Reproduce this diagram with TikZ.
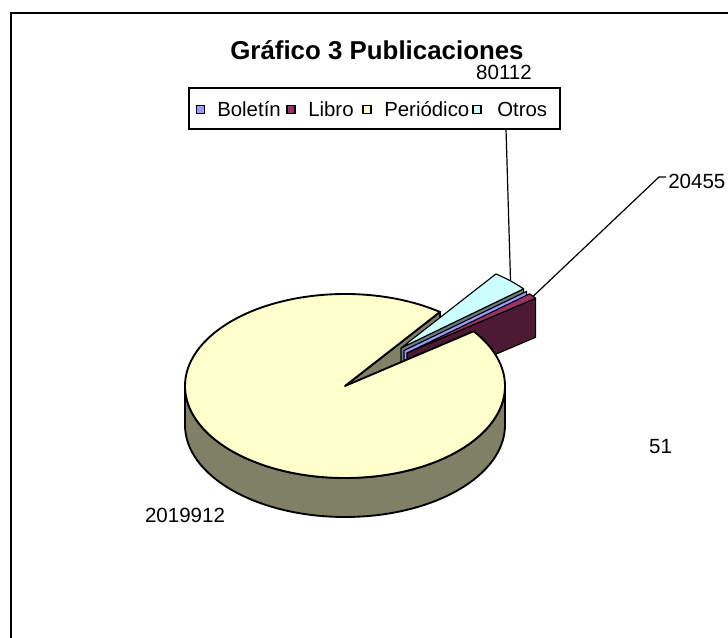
\documentclass[tikz,border=0pt]{standalone}
\usepackage{fontspec}
\setmainfont{Liberation Sans}
\usetikzlibrary{calc}
\definecolor{perTop}{HTML}{FFFFCC}
\definecolor{perSide}{HTML}{808066}
\definecolor{libTop}{HTML}{993366}
\definecolor{libSide}{HTML}{4D1A33}
\definecolor{otrTop}{HTML}{CCFFFF}
\definecolor{otrSide}{HTML}{668080}
\definecolor{bolTop}{HTML}{9999FF}
\begin{document}
\begin{tikzpicture}[x=0.75pt,y=0.75pt,
  pie/.style={draw=black,line width=1.4pt,line join=round},
  thinpie/.style={draw=black,line width=0.85pt,line join=round},
  lbl/.style={font=\fontsize{15.4}{18}\selectfont,inner sep=0pt},
  legtxt/.style={font=\fontsize{15.3}{18}\selectfont,inner sep=0pt,anchor=base west},
  leader/.style={draw=black,line width=0.9pt},
  sq/.style={draw=black,line width=0.8pt,minimum size=6pt,inner sep=0pt}]
\useasboundingbox (0,0) rectangle (728,638);
\fill[white] (0,0) rectangle (728,638);
% outer frame
\draw[line width=1.5pt] (11.2,0) -- (11.2,625.3) -- (728,625.3);

% main slice geometry
\coordinate (C) at (345,252);
\coordinate (Cb) at (345,213);
% Periodico outer wall
\path[pie,fill=perSide] ($(C)+(180:160 and 92)$) arc[start angle=180,end angle=360,x radius=160,y radius=92] -- ++(0,-39) arc[start angle=360,end angle=180,x radius=160,y radius=92] -- cycle;
% Periodico cut face
\path[pie,fill=perSide] (C) -- ($(C)+(53.6:160 and 92)$) -- ++(0,-39) -- (Cb) -- cycle;

% Otros (exploded)
\coordinate (AO) at (401,290);
\path[thinpie,fill=otrSide] (AO) -- ($(AO)+(40:160 and 92)$) -- ++(0,-39) -- ($(AO)+(0,-39)$) -- cycle;
\path[thinpie,fill=otrTop] (AO) -- ($(AO)+(40:160 and 92)$) arc[start angle=40,end angle=53.6,x radius=160,y radius=92] -- cycle;
% Boletin (exploded)
\coordinate (AB) at (404,287.5);
\path[thinpie,fill=bolTop] (AB) -- ($(AB)+(40:160 and 92)$) -- ++(0,-39) -- ($(AB)+(0,-39)$) -- cycle;
% Libro (exploded)
\coordinate (AL) at (407,285);
\path[thinpie,fill=libSide] (AL) -- ($(AL)+(36.5:160 and 92)$) -- ++(0,-39) -- ($(AL)+(0,-39)$) -- cycle;
\path[thinpie,fill=libTop] (AL) -- ($(AL)+(36.5:160 and 92)$) arc[start angle=36.5,end angle=40,x radius=160,y radius=92] -- cycle;

% Periodico top
\path[pie,fill=perTop] (C) -- ($(C)+(53.6:160 and 92)$) arc[start angle=53.6,end angle=396.5,x radius=160,y radius=92] -- cycle;

% leader lines
\coordinate (s80) at (506,509);
\coordinate (o80) at ($(AO)+(46.8:160 and 92)$);
\draw[leader] (s80) -- (o80);
\coordinate (t20a) at (666,461);
\coordinate (t20b) at (659,461);
\coordinate (l20) at ($(AL)+(38:160 and 92)$);
\draw[leader] (t20a) -- (t20b) -- (l20);

% title
\node[font=\bfseries\fontsize{19.4}{23}\selectfont,anchor=base,inner sep=0pt] (title) at (377,578) {Gráfico 3 Publicaciones};

% legend
\node[draw=black,line width=1.1pt,fill=white,minimum width=278.25pt,minimum height=30.75pt,inner sep=0pt] (legend) at (374.5,529.5) {};
\node[sq,fill=bolTop] (sqB) at (200.5,528.5) {};
\node[legtxt] (txB) at (217,521.3) {Boletín};
\node[sq,fill=libTop] (sqL) at (291,528.5) {};
\node[legtxt] (txL) at (308,521.3) {Libro};
\node[sq,fill=perTop] (sqP) at (367,528.5) {};
\node[legtxt] (txP) at (384,521.3) {Periódico};
\node[sq,fill=otrTop] (sqO) at (477,528.5) {};
\node[legtxt] (txO) at (497,521.3) {Otros};

% data labels
\node[lbl,anchor=base] (lab80) at (504,558) {80112};
\node[lbl,anchor=base west] (lab20) at (668,449.5) {20455};
\node[lbl,anchor=base] (lab51) at (660.5,184.4) {51};
\node[lbl,anchor=base west] (labPer) at (144.8,115.2) {2019912};
\end{tikzpicture}
\end{document}
